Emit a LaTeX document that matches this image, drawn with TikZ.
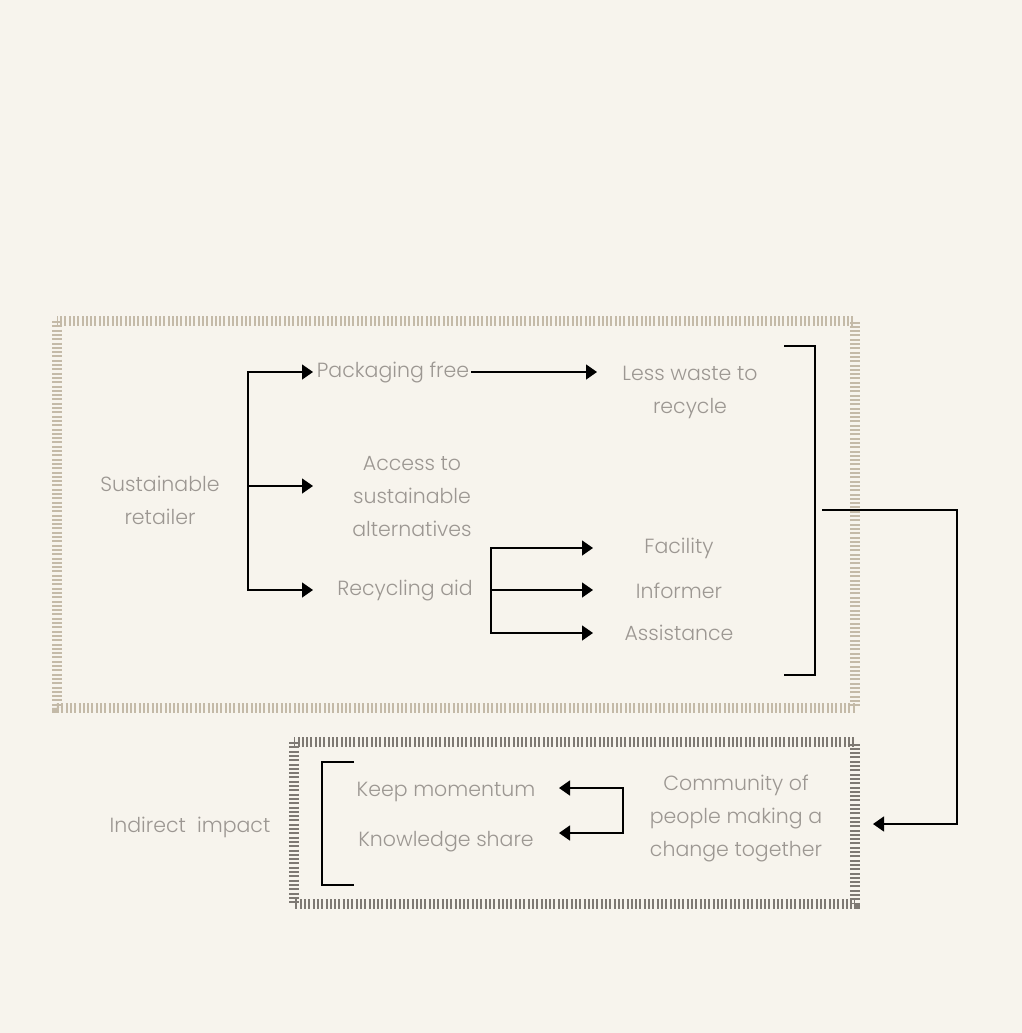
\documentclass[tikz,border=0pt]{standalone}
\usepackage{fontspec}
\setmainfont{Poppins Light}
\usetikzlibrary{arrows.meta}
\definecolor{bg}{HTML}{F7F4ED}
\definecolor{txt}{HTML}{9C9792}
\definecolor{tanband}{HTML}{C4BAA8}
\definecolor{grayband}{HTML}{7E7973}
\begin{document}
\begin{tikzpicture}[x=1pt,y=-1pt,
  lbl/.style={text=txt, font=\fontsize{20.5}{33}\selectfont, align=center, inner sep=0pt},
  conn/.style={line width=1.4pt, draw=black, -{Triangle[length=11pt,width=15pt]}},
  brk/.style={line width=1.4pt, draw=black},
  band/.style={line width=10pt, dash pattern=on 2pt off 2.3pt}]
\fill[bg] (0,0) rectangle (1022,1033);
\useasboundingbox (0,0) rectangle (1022,1033);
% tick bands
\draw[band, tanband] (57,321) rectangle (855,708);
\draw[band, grayband] (294,742) rectangle (855,904);
% nodes
\node[lbl] (sr) at (160,500) {Sustainable\\retailer};
\node[lbl] (pf) at (393,372) {Packaging free};
\node[lbl] (lw) at (690,392) {Less waste to\\recycle};
\node[lbl] (ac) at (412,497) {Access to\\sustainable\\alternatives};
\node[lbl] (ra) at (405,591) {Recycling aid};
\node[lbl] (fa) at (679,548) {Facility};
\node[lbl] (in) at (679,591) {Informer};
\node[lbl] (as) at (679,633) {Assistance};
\node[lbl] (ii) at (190,827) {Indirect\ \ impact};
\node[lbl] (km) at (446,792) {Keep momentum};
\node[lbl] (ks) at (446,842) {Knowledge share};
\node[lbl] (cm) at (736,818) {Community of\\people making a\\change together};
% coordinates
\coordinate (b1) at (248,486);
\coordinate (t1) at (313,0);
\coordinate (t1b) at (597,0);
\coordinate (b2) at (491,590);
\coordinate (t2) at (593,0);
\coordinate (br1) at (784,346);
\coordinate (br2) at (784,675);
\coordinate (bm) at (822,510);
\coordinate (ct) at (873,824);
\coordinate (cj) at (623,811);
\coordinate (k1) at (559,788);
\coordinate (k2) at (559,833);
\coordinate (lb1) at (354,762);
\coordinate (lb2) at (354,885);
% first branch
\draw[conn] (b1) |- (t1 |- pf);
\draw[conn] (b1) -- (t1 |- b1);
\draw[conn] (b1) |- (t1 |- b2);
\draw[conn] ([xshift=2pt]pf.east) -- (t1b |- pf);
% second branch
\draw[conn] (b2) |- (t2 |- fa);
\draw[conn] (b2) -- (t2 |- b2);
\draw[conn] (b2) |- (t2 |- as);
% bracket upper
\draw[brk] (br1) -- ++(31,0) |- (br2);
\draw[conn] (bm) -- ++(135,0) |- (ct);
% lower
\draw[brk] (lb1) -- ++(-32,0) |- (lb2);
\draw[conn] (cj) |- (k1);
\draw[conn] (cj) |- (k2);
\end{tikzpicture}
\end{document}
